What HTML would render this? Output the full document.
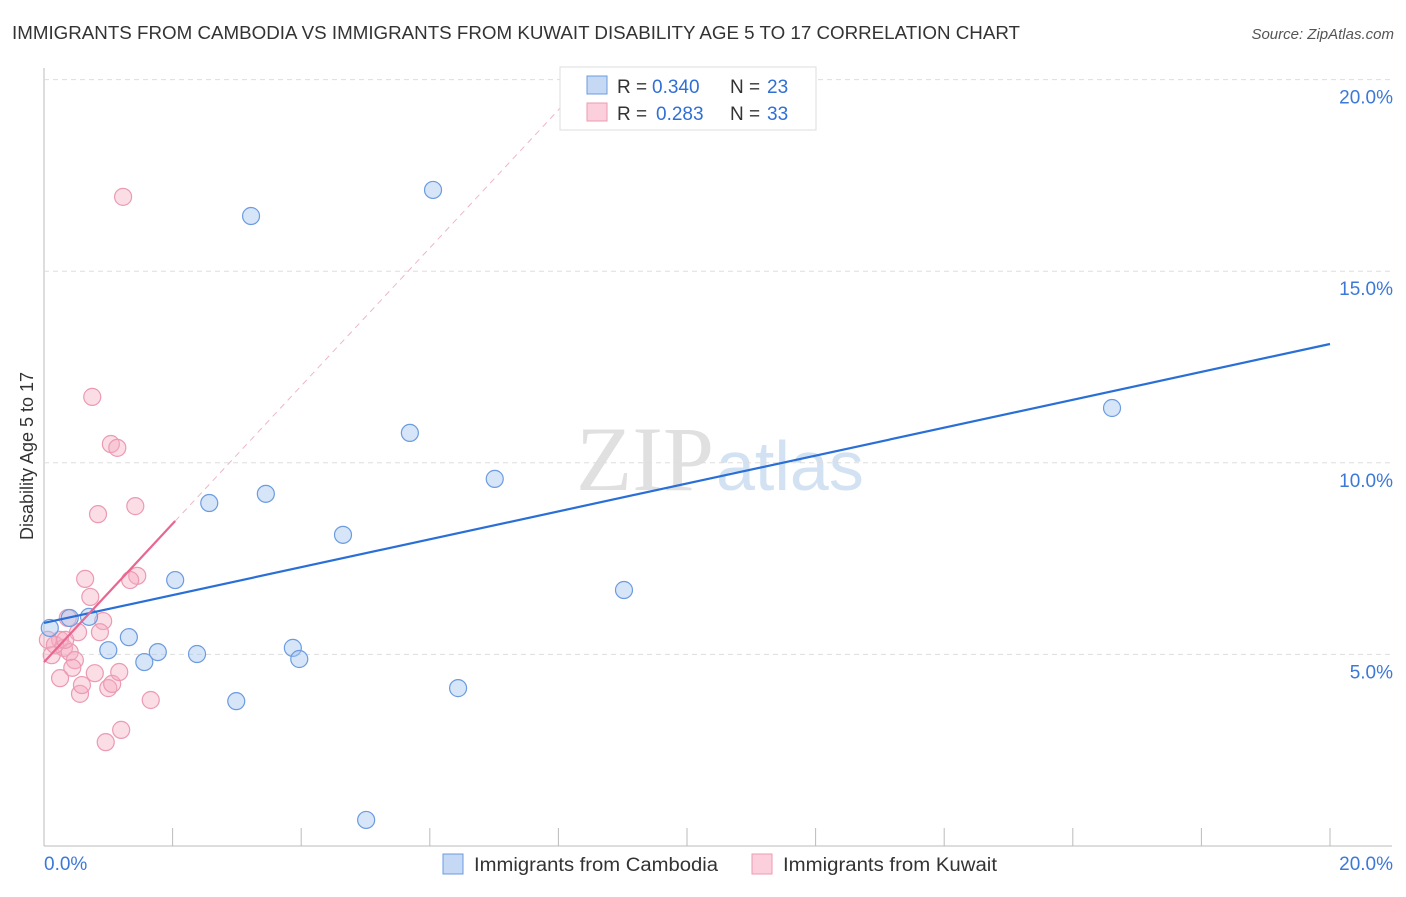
<!DOCTYPE html>
<html><head><meta charset="utf-8"><style>
body{margin:0;background:#fff;font-family:"Liberation Sans",sans-serif;}
</style></head><body>
<svg id="chart" width="1406" height="892" xmlns="http://www.w3.org/2000/svg" font-family="Liberation Sans, sans-serif">
<text x="12" y="39" font-size="18" fill="#333" textLength="1008" lengthAdjust="spacingAndGlyphs">IMMIGRANTS FROM CAMBODIA VS IMMIGRANTS FROM KUWAIT DISABILITY AGE 5 TO 17 CORRELATION CHART</text>
<text x="1394" y="39" font-size="15" fill="#555" text-anchor="end" font-style="italic">Source: ZipAtlas.com</text>
<text x="714" y="490" font-size="92" fill="#e0e0e0" text-anchor="end" font-family="Liberation Serif, serif">ZIP</text>
<text x="716" y="490" font-size="70" fill="#d3e2f3">atlas</text>
<text transform="translate(33,456) rotate(-90)" font-size="18" fill="#333" text-anchor="middle">Disability Age 5 to 17</text>
<g id="grid"></g><g id="marks"></g>
<g>
<rect x="560" y="67" width="256" height="63" fill="#fff" stroke="#ddd"/>
<rect x="587" y="76" width="20" height="18" fill="#c5d9f5" stroke="#6b9be0"/>
<rect x="587" y="103" width="20" height="18" fill="#fbd0dc" stroke="#ec9ab3"/>
<text x="617" y="93" font-size="19" fill="#333">R =</text>
<text x="652" y="93" font-size="19" fill="#2f6fd6">0.340</text>
<text x="730" y="93" font-size="19" fill="#333">N =</text>
<text x="767" y="93" font-size="19" fill="#2f6fd6">23</text>
<text x="617" y="120" font-size="19" fill="#333">R =</text>
<text x="656" y="120" font-size="19" fill="#2f6fd6">0.283</text>
<text x="730" y="120" font-size="19" fill="#333">N =</text>
<text x="767" y="120" font-size="19" fill="#2f6fd6">33</text>
</g>
<g>
<rect x="443" y="854" width="20" height="20" fill="#c5d9f5" stroke="#6b9be0"/>
<text x="474" y="871" font-size="19" fill="#333" textLength="244" lengthAdjust="spacingAndGlyphs">Immigrants from Cambodia</text>
<rect x="752" y="854" width="20" height="20" fill="#fbd0dc" stroke="#ec9ab3"/>
<text x="783" y="871" font-size="19" fill="#333" textLength="214" lengthAdjust="spacingAndGlyphs">Immigrants from Kuwait</text>
</g>
</svg>
<script>
const yTicks=[5,10,15,20];
const yTickLabels=["5.0%","10.0%","15.0%","20.0%"];
const xTickLabels=["0.0%","20.0%"];
const cambodiaX=[3.22,6.05,5.69,7.01,2.57,3.45,4.65,2.04,9.02,0.70,1.32,1.00,1.77,2.38,1.56,3.87,3.97,2.99,6.44,5.01,16.61,0.09,0.40];
const cambodiaY=[16.44,17.12,10.78,9.58,8.95,9.19,8.12,6.94,6.68,5.98,5.45,5.11,5.06,5.01,4.80,5.17,4.88,3.78,4.12,0.68,11.43,5.69,5.95];
const kuwaitX=[1.23,0.75,1.04,1.14,0.84,1.42,0.64,1.45,1.34,0.72,0.92,0.37,0.53,0.25,0.06,0.12,0.31,0.40,0.48,0.44,0.25,0.56,0.79,0.59,1.00,1.06,1.17,1.66,0.96,1.20,0.17,0.33,0.87];
const kuwaitY=[16.94,11.72,10.49,10.39,8.66,8.87,6.97,7.05,6.94,6.50,5.87,5.95,5.58,5.38,5.38,4.98,5.17,5.06,4.85,4.65,4.38,3.97,4.51,4.20,4.12,4.23,4.54,3.81,2.71,3.03,5.25,5.38,5.58];
const cambodiaTrend=[[0,5.82],[20,13.10]];
const kuwaitTrend=[[0,4.80],[2.04,8.48]];
const kuwaitTrendExt=[[2.04,8.48],[8.44,20]];
const sx=v=>44+v/20*1286, sy=v=>846-v*38.32;
const NS="http://www.w3.org/2000/svg";
const grid=document.getElementById('grid'), marks=document.getElementById('marks');
function mk(tag,attrs,parent){const e=document.createElementNS(NS,tag);for(const k in attrs)e.setAttribute(k,attrs[k]);parent.appendChild(e);return e;}
let a=mk('line',{x1:44,y1:68,x2:44,y2:846,stroke:'#bbb'},grid);


a=mk('line',{x1:44,y1:846,x2:1392,y2:846,stroke:'#bbb'},grid);


for(let i=1;i<=10;i++){const l=mk('line',{x1:44+i*128.6,y1:828,x2:44+i*128.6,y2:846,stroke:'#bbb'},grid);

}
yTicks.forEach((t,i)=>{const l=mk('line',{x1:44,y1:sy(t),x2:1392,y2:sy(t),stroke:'#ddd','stroke-dasharray':'5,4'},grid);


const tx=mk('text',{x:1393,y:sy(t)+24,'font-size':19,fill:'#3c78d8','text-anchor':'end'},grid);tx.textContent=yTickLabels[i];

});
let xl=mk('text',{x:44,y:870,'font-size':19,fill:'#3c78d8'},grid);xl.textContent=xTickLabels[0];


xl=mk('text',{x:1393,y:870,'font-size':19,fill:'#3c78d8','text-anchor':'end'},grid);xl.textContent=xTickLabels[1];


kuwaitX.forEach((x,i)=>{const c=mk('circle',{cx:sx(x),cy:sy(kuwaitY[i]),r:8.5,fill:'rgba(246,170,193,0.4)',stroke:'#eb9ab2','stroke-width':1.2},marks);

});
cambodiaX.forEach((x,i)=>{const c=mk('circle',{cx:sx(x),cy:sy(cambodiaY[i]),r:8.5,fill:'rgba(164,198,240,0.45)',stroke:'#6b9be0','stroke-width':1.2},marks);

});
let t=mk('line',{x1:sx(kuwaitTrendExt[0][0]),y1:sy(kuwaitTrendExt[0][1]),x2:sx(kuwaitTrendExt[1][0]),y2:sy(kuwaitTrendExt[1][1]),stroke:'#eeb6c6','stroke-dasharray':'6,5'},marks);


t=mk('line',{x1:sx(cambodiaTrend[0][0]),y1:sy(cambodiaTrend[0][1]),x2:sx(cambodiaTrend[1][0]),y2:sy(cambodiaTrend[1][1]),stroke:'#2a6fd6','stroke-width':2.2},marks);


t=mk('line',{x1:sx(kuwaitTrend[0][0]),y1:sy(kuwaitTrend[0][1]),x2:sx(kuwaitTrend[1][0]),y2:sy(kuwaitTrend[1][1]),stroke:'#e8668f','stroke-width':2.2},marks);


</script>
</body></html>
